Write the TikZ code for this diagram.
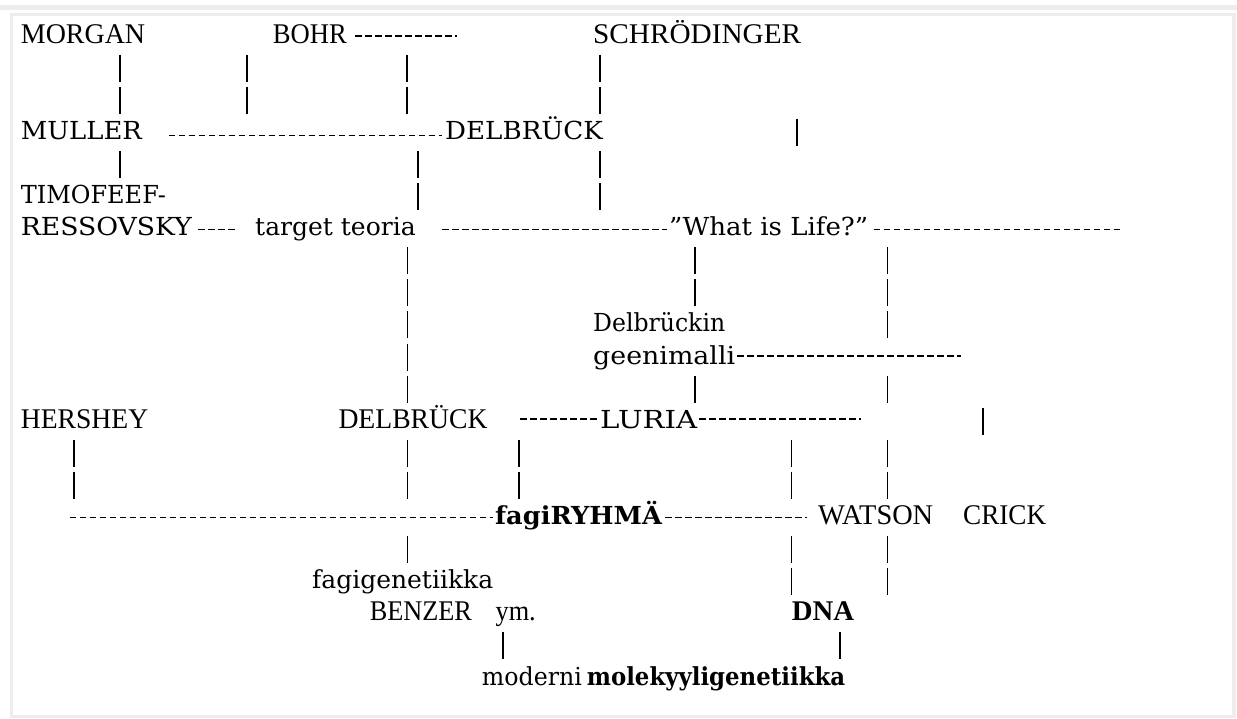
\documentclass[tikz,border=0pt]{standalone}
\usepackage{fontspec}
\usepackage{graphicx}
\setmainfont{DejaVu Serif}
\newfontfamily\timesf{Liberation Serif}
\newfontfamily\lucf{DejaVu Serif}
\newcommand\fw[2]{\resizebox{#1pt}{\height}{#2}}
\begin{document}
\begin{tikzpicture}[x=1pt,y=-1pt,
  tm/.style={inner sep=0pt, anchor=base west, font=\timesf\fontsize{28.5}{30}\selectfont},
  lu/.style={inner sep=0pt, anchor=base west, font=\lucf\fontsize{24.8}{28}\selectfont},
  hy/.style={line width=1.6pt, dash pattern=on 6.6pt off 3.4pt},
  pp/.style={line width=1.05pt, dash pattern=on 27pt off 5.1pt},
  frame/.style={draw=gray!14, line width=3.5pt}]
\useasboundingbox (0,0) rectangle (1237,718);
\fill[gray!14] (0,5) rectangle (1237,10);
\draw[frame] (11.5,14.5) rectangle (1234,716.5);

% labels
\node[tm] (morgan) at (20.7,43) {\fw{124.3}{MORGAN}};
\node[tm] (bohr) at (272.7,43) {\fw{74}{BOHR}};
\node[tm] (schrod) at (593,43) {\fw{208}{SCHRÖDINGER}};
\node[lu] (muller) at (20.7,139.3) {\fw{121}{MULLER}};
\node[lu] (delbA) at (445,139.3) {\fw{157.7}{DELBRÜCK}};
\node[lu] (timo) at (20.7,203.5) {\fw{145}{TIMOFEEF-}};
\node[lu] (ress) at (20.7,235.6) {\fw{171}{RESSOVSKY}};
\node[lu] (target) at (255,235.6) {\fw{160.5}{target teoria}};
\node[lu] (life) at (669,235.6) {\fw{199}{”What is Life?”}};
\node[lu] (delbin) at (593,331.9) {\fw{132}{Delbrückin}};
\node[lu] (geeni) at (593,364) {\fw{142}{geenimalli}};
\node[tm] (hershey) at (20.7,428.2) {\fw{127.3}{HERSHEY}};
\node[tm] (delbB) at (338.3,428.2) {\fw{149}{DELBRÜCK}};
\node[lu] (luria) at (600,428.2) {\fw{97}{LURIA}};
\node[lu] (fagi) at (495,524.5) {\fw{166.7}{\bfseries fagiRYHMÄ}};
\node[tm] (watson) at (818,524.5) {\fw{115}{WATSON}};
\node[tm] (crick) at (963,524.5) {\fw{83}{CRICK}};
\node[lu] (fgen) at (312,588.7) {\fw{181}{fagigenetiikka}};
\node[tm] (benzer) at (369.6,620.8) {\fw{166}{BENZER\hspace{0.9em}ym.}};
\node[tm] (dna) at (791.7,620.8) {\fw{62.3}{\bfseries DNA}};
\node[lu] (moderni) at (481.7,685) {\fw{100}{moderni}\hspace{5pt}\fw{258.3}{\bfseries molekyyligenetiikka}};

% hyphen runs
\draw[hy] ([shift={(7.8,-7)}]bohr.base east) -- ++(102.5,0);
\draw[hy] ([shift={(26.5,-4)}]muller.base east) -- ([shift={(-3,-4)}]delbA.base west);
\draw[hy] ([shift={(5.8,-6)}]ress.base east) -- ([shift={(-18,-6)}]target.base west);
\draw[hy] ([shift={(26,-6)}]target.base east) -- ([shift={(-2,-6)}]life.base west);
\draw[hy] ([shift={(5.2,-6)}]life.base east) -- ++(246.8,0);
\draw[hy] ([shift={(2,-8)}]geeni.base east) -- ++(223.5,0);
\draw[hy] ([shift={(32.5,-9)}]delbB.base east) -- ([shift={(0,-9)}]luria.base west);
\draw[hy] ([shift={(2,-9)}]luria.base east) -- ++(161.5,0);
\coordinate (fl) at (69.5,517.5);
\draw[hy] (fl) -- ([shift={(-2,-7)}]fagi.base west);
\draw[hy] ([shift={(2.8,-7)}]fagi.base east) -- ([shift={(-11,-7)}]watson.base west);

% pipe runs
\draw[pp] (120,54.6) -- (120,113.7);
\draw[pp] (120,150.9) -- (120,177.9);
\draw[pp] (247,54.6) -- (247,113.7);
\draw[pp] (407,54.6) -- (407,113.7);
\draw[pp] (600,54.6) -- (600,113.7);
\draw[pp] (600,150.9) -- (600,210.0);
\draw[pp] (797,118.8) -- (797,145.8);
\draw[pp] (418,150.9) -- (418,210.0);
\draw[pp] (407.3,247.2) -- (407.3,402.6);
\draw[pp] (695,247.2) -- (695,306.3);
\draw[pp] (695,375.6) -- (695,402.6);
\draw[pp] (887.7,247.2) -- (887.7,338.4);
\draw[pp] (887.7,375.6) -- (887.7,402.6);
\draw[pp] (887.7,439.8) -- (887.7,498.9);
\draw[pp] (887.7,536.1) -- (887.7,595.2);
\draw[pp] (983,407.7) -- (983,434.7);
\draw[pp] (74,439.8) -- (74,498.9);
\draw[pp] (407.3,439.8) -- (407.3,498.9);
\draw[pp] (407.3,536.1) -- (407.3,563.1);
\draw[pp] (519,439.8) -- (519,498.9);
\draw[pp] (791.7,439.8) -- (791.7,498.9);
\draw[pp] (791.7,536.1) -- (791.7,595.2);
\draw[pp] (503,632.4) -- (503,659.4);
\draw[pp] (840,632.4) -- (840,659.4);
\end{tikzpicture}
\end{document}
